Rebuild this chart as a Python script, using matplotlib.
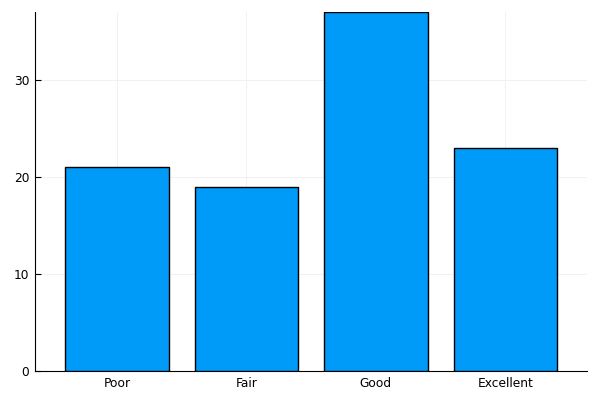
import matplotlib
matplotlib.use('Agg')
import matplotlib.pyplot as plt
import numpy as np

categories = ['Poor', 'Fair', 'Good', 'Excellent']
counts = [21, 19, 37, 23]

fig = plt.figure(figsize=(6, 4), dpi=100)
ax = fig.add_axes([35/600, 29/400, 552/600, 359/400])

x = np.arange(1, len(categories) + 1)
ax.bar(x, counts, width=0.8, color='#009AF9', edgecolor='black', linewidth=1.0, zorder=3)

ax.set_xlim(0.367, 4.63)
ax.set_ylim(0, 37)
ax.set_xticks(x)
ax.set_xticklabels(categories)
ax.set_yticks([0, 10, 20, 30])

ax.grid(True, color='#efefef', linewidth=0.6, zorder=0)
ax.spines['top'].set_visible(False)
ax.spines['right'].set_visible(False)
ax.tick_params(direction='in', length=4, width=0.8, labelsize=8.8, pad=4)

fig.savefig('out.png', dpi=100)
